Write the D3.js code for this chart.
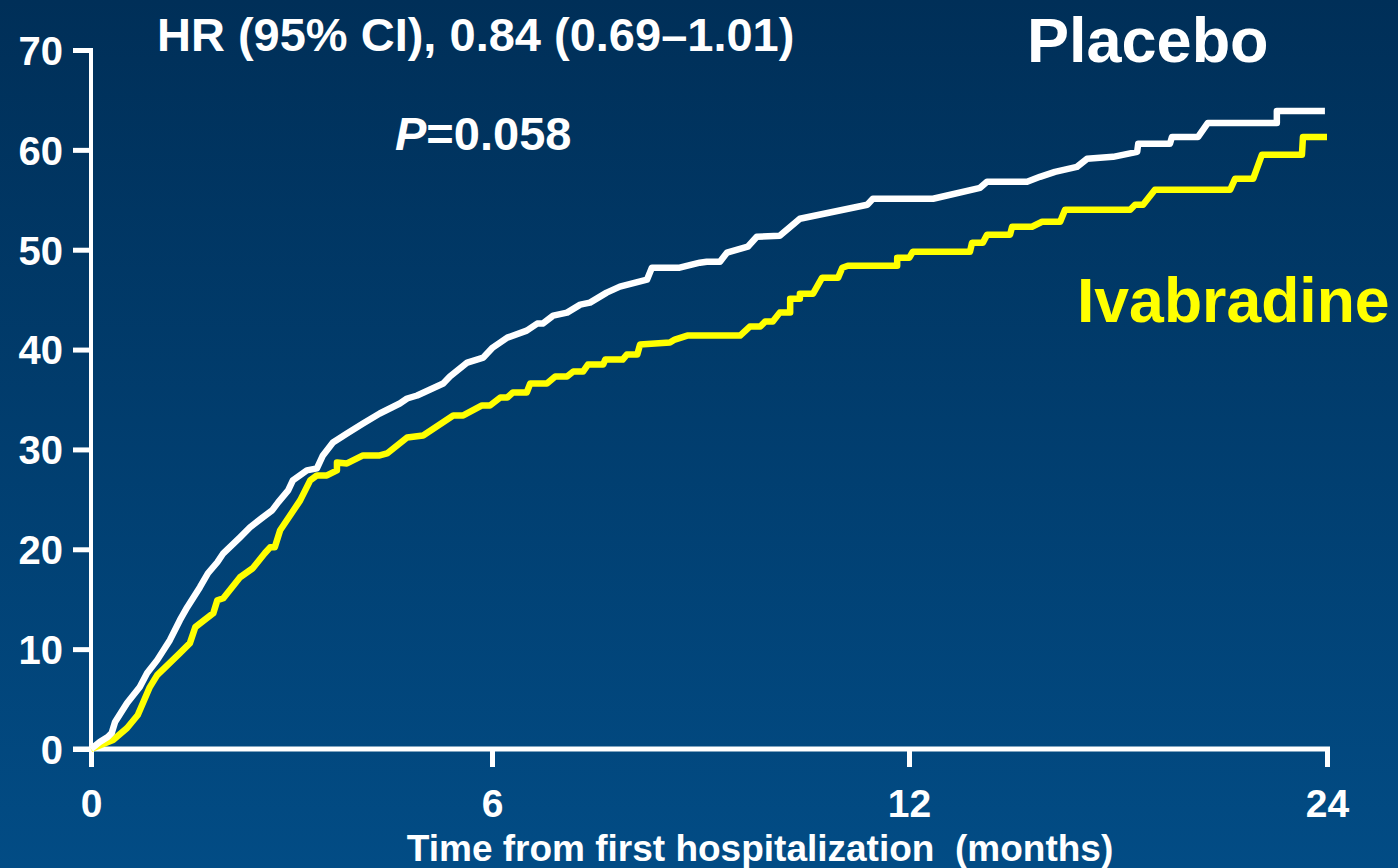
<!DOCTYPE html>
<html>
<head>
<meta charset="utf-8">
<script src="https://cdn.jsdelivr.net/npm/d3@7"></script>
<style>
  html, body { margin: 0; padding: 0; }
  body { width: 1398px; height: 868px; overflow: hidden; }
  svg text { font-family: Arial, "Liberation Sans", sans-serif; font-weight: bold; fill: #fff; }
</style>
</head>
<body>
<svg id="chart"></svg>
<script>
// months / cumulative %
var placeboMonths = [0, 0.13, 0.25, 0.31, 0.36, 0.54, 0.73, 0.84, 0.99, 1.18, 1.33, 1.44, 1.63, 1.75, 1.89, 1.98, 2.23, 2.38, 2.57, 2.71, 2.80, 2.95, 3.02, 3.23, 3.38, 3.47, 3.62, 3.83, 4.07, 4.32, 4.62, 4.73, 4.88, 5.27, 5.37, 5.63, 5.87, 6.01, 6.22, 6.50, 6.65, 6.73, 6.88, 7.08, 7.27, 7.41, 7.65, 7.84, 8.23, 8.30, 8.70, 8.99, 9.09, 9.28, 9.38, 9.53, 9.68, 9.81, 10.14, 10.43, 11.40, 11.48, 12.69, 14.04, 14.24, 15.39, 15.76, 16.19, 16.82, 17.11, 17.86, 18.55, 18.58, 19.49, 19.55, 20.30, 20.58, 22.56, 22.56, 23.94]
var placeboValues = [0, 0.7, 1.2, 1.6, 2.7, 4.6, 6.2, 7.6, 8.9, 10.9, 12.9, 14.2, 16.2, 17.6, 18.7, 19.6, 21.2, 22.2, 23.2, 23.9, 24.7, 25.9, 26.9, 27.9, 28.1, 29.4, 30.7, 31.6, 32.6, 33.6, 34.6, 35.1, 35.4, 36.6, 37.3, 38.7, 39.2, 40.2, 41.2, 41.9, 42.6, 42.6, 43.4, 43.7, 44.5, 44.7, 45.7, 46.3, 47.0, 48.2, 48.2, 48.7, 48.8, 48.8, 49.7, 50.0, 50.3, 51.3, 51.4, 53.1, 54.5, 55.1, 55.1, 56.2, 56.8, 56.8, 57.3, 57.8, 58.3, 59.1, 59.3, 59.8, 60.6, 60.6, 61.3, 61.3, 62.7, 62.7, 63.9, 63.9]

var ivabradineMonths = [0, 0.33, 0.54, 0.70, 0.88, 0.99, 1.33, 1.48, 1.56, 1.83, 1.89, 1.98, 2.23, 2.42, 2.60, 2.68, 2.75, 2.83, 3.13, 3.28, 3.38, 3.53, 3.68, 3.68, 3.83, 4.07, 4.32, 4.43, 4.73, 4.97, 5.42, 5.57, 5.85, 5.97, 6.12, 6.22, 6.30, 6.50, 6.55, 6.79, 6.91, 7.08, 7.17, 7.31, 7.38, 7.60, 7.63, 7.88, 7.94, 8.09, 8.13, 8.56, 8.63, 8.81, 9.57, 9.71, 9.86, 9.93, 10.04, 10.14, 10.29, 10.29, 10.43, 10.43, 10.62, 10.75, 10.98, 11.04, 11.12, 11.83, 11.83, 12.01, 12.11, 13.75, 13.81, 14.12, 14.24, 14.90, 14.96, 15.53, 15.82, 16.34, 16.48, 18.35, 18.49, 18.72, 19.06, 21.22, 21.36, 21.88, 22.13, 23.28, 23.31, 24.0]
var ivabradineValues = [0, 0.9, 2.1, 3.4, 6.2, 7.4, 9.6, 10.6, 12.2, 13.6, 14.9, 15.1, 17.2, 18.1, 19.6, 20.2, 20.2, 21.9, 24.9, 26.9, 27.4, 27.4, 27.9, 28.7, 28.6, 29.4, 29.4, 29.6, 31.2, 31.4, 33.4, 33.4, 34.4, 34.4, 35.2, 35.2, 35.7, 35.7, 36.6, 36.6, 37.3, 37.3, 37.8, 37.8, 38.5, 38.5, 39.0, 39.0, 39.5, 39.5, 40.5, 40.7, 41.0, 41.4, 41.4, 42.3, 42.3, 42.8, 42.8, 43.7, 43.7, 45.1, 45.1, 45.6, 45.6, 47.2, 47.2, 48.2, 48.4, 48.4, 49.2, 49.2, 49.8, 49.8, 50.7, 50.7, 51.5, 51.5, 52.3, 52.3, 52.8, 52.8, 54.0, 54.0, 54.5, 54.5, 56.0, 56.0, 57.1, 57.1, 59.5, 59.5, 61.3, 61.3]

var xTicks = [0, 6, 12, 24]
var yTicks = [0, 10, 20, 30, 40, 50, 60, 70]

var hrLabel = "HR (95% CI), 0.84 (0.69\u20131.01)"
var pLabel = "0.058"
var xTitle = "Time from first hospitalization  (months)"

function makeSeries(months, values) {
  return months.map(function (m, i) { return { t: m, v: values[i] } })
}

var width = 1398
var height = 868

var svg = d3.select("#chart")
  .attr("width", width)
  .attr("height", height)

// background gradient
var defs = svg.append("defs")
var grad = defs.append("linearGradient")
  .attr("id", "bg")
  .attr("x1", 0).attr("y1", 0).attr("x2", 0).attr("y2", 1)
grad.append("stop").attr("offset", "0%").attr("stop-color", "#002f58")
grad.append("stop").attr("offset", "100%").attr("stop-color", "#024c85")
svg.append("rect")
  .attr("width", width)
  .attr("height", height)
  .attr("fill", "url(#bg)")

// the time axis is broken after 12 months, so it is a piecewise scale
var x = d3.scaleLinear()
  .domain([0, 6, 12, 24])
  .range([91, 492, 909, 1327])
var y = d3.scaleLinear()
  .domain([0, 70])
  .range([749, 50])

// y axis
var yAxis = svg.append("g")
  .attr("class", "axis axis--y")
  .attr("transform", "translate(" + x(0) + ",0)")
  .call(d3.axisLeft(y).tickValues(yTicks).tickSize(18).tickSizeOuter(0).tickPadding(10))
yAxis.select(".domain")
  .attr("stroke", "#fff").attr("stroke-width", 4)
  .attr("d", "M0," + (y(70) - 2) + "V" + (y(0) + 18))
yAxis.selectAll(".tick line").attr("stroke", "#fff").attr("stroke-width", 5)
yAxis.selectAll(".tick text")
  .attr("fill", "#fff")
  .style("font-size", "40px")
  .attr("dy", "0.36em")

// x axis
var xAxis = svg.append("g")
  .attr("class", "axis axis--x")
  .attr("transform", "translate(0," + y(0) + ")")
  .call(d3.axisBottom(x).tickValues(xTicks).tickSize(18).tickSizeOuter(0).tickPadding(22))
xAxis.select(".domain")
  .attr("stroke", "#fff").attr("stroke-width", 5)
  .attr("d", "M" + (x(0) - 18) + ",0H" + (x(24) + 3))
xAxis.selectAll(".tick line").attr("stroke", "#fff").attr("stroke-width", 5)
xAxis.selectAll(".tick text")
  .attr("fill", "#fff")
  .style("font-size", "39px")

var line = d3.line()
  .x(function (d) { return x(d.t) })
  .y(function (d) { return y(d.v) })

svg.append("path")
  .datum(makeSeries(ivabradineMonths, ivabradineValues))
  .attr("class", "line-ivabradine")
  .attr("fill", "none")
  .attr("stroke", "#ffff00")
  .attr("stroke-width", 6.5)
  .attr("stroke-linejoin", "round")
  .attr("d", line)

svg.append("path")
  .datum(makeSeries(placeboMonths, placeboValues))
  .attr("class", "line-placebo")
  .attr("fill", "none")
  .attr("stroke", "#ffffff")
  .attr("stroke-width", 6.5)
  .attr("stroke-linejoin", "round")
  .attr("d", line)

// annotations
svg.append("text")
  .attr("x", 157).attr("y", 51)
  .style("font-size", "47px")
  .text(hrLabel)

var p = svg.append("text")
  .attr("x", 395).attr("y", 150)
  .style("font-size", "47px")
p.append("tspan").style("font-style", "italic").text("P")
p.append("tspan").text("=" + pLabel)

svg.append("text")
  .attr("x", 1027).attr("y", 62)
  .style("font-size", "63px")
  .text("Placebo")

svg.append("text")
  .attr("x", 1077).attr("y", 322)
  .style("font-size", "62.5px")
  .style("fill", "#ffff00")
  .text("Ivabradine")

svg.append("text")
  .attr("x", 760).attr("y", 861)
  .attr("text-anchor", "middle")
  .style("font-size", "37px")
  .style("white-space", "pre")
  .text(xTitle)
</script>
</body>
</html>
